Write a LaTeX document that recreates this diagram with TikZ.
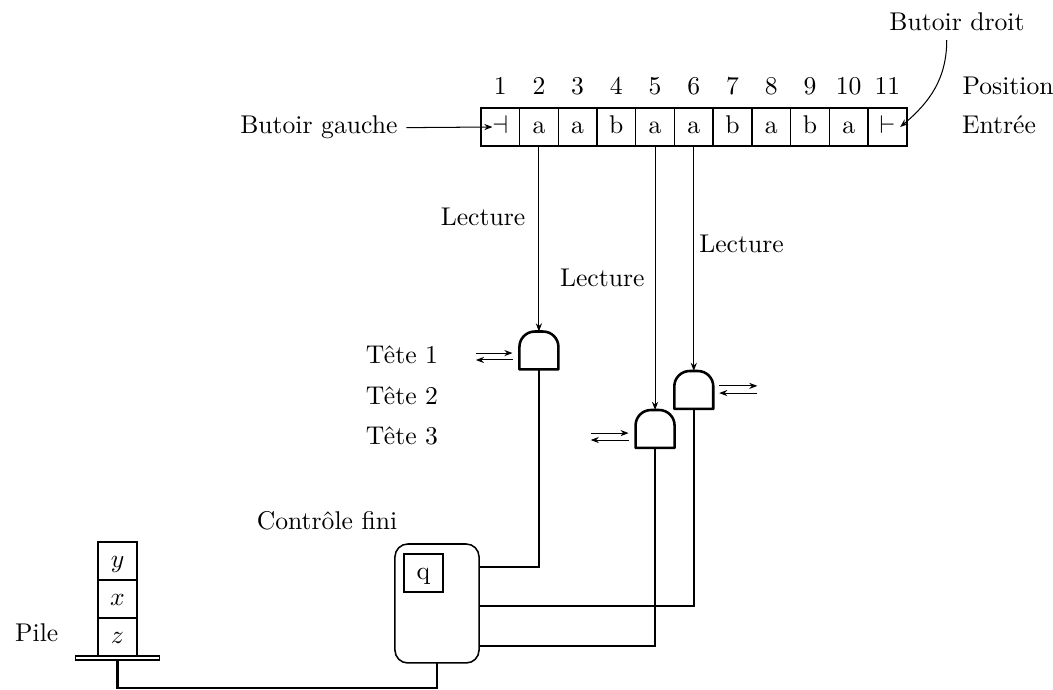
\documentclass[tikz,border=0pt]{standalone}
\usepackage{amsmath,amssymb}
\usepackage{tikz}
\usetikzlibrary{arrows.meta,positioning,calc}
\tikzset{
  cell/.style={draw, line width=0.6pt, minimum width=15.1pt, minimum height=14.8pt,
               inner sep=0pt, outer sep=0pt, text height=1.5ex, text depth=.25ex},
  num/.style={text height=1.5ex, text depth=.25ex},
  tete/.style={minimum width=15.2pt, minimum height=14.8pt, inner sep=0pt, outer sep=0pt},
  contour/.style={line width=1pt, line join=round},
  ctrl/.style={draw, line width=0.6pt, rounded corners=5pt, minimum width=32.8pt,
               minimum height=46.4pt, outer sep=0pt},
  plaque/.style={draw, line width=0.5pt, minimum width=32.8pt, minimum height=1.6pt,
                 inner sep=0pt, outer sep=0pt},
  fil/.style={line width=1pt},
  lect/.style={-{Stealth[length=3.2pt,width=2.4pt]}, line width=0.4pt},
}
\newcommand{\tetecontour}[1]{%
  \draw[contour] (#1.south west) -- ([yshift=-6pt]#1.north west)
    arc[start angle=180, end angle=90, radius=6pt] -- ([xshift=-6pt]#1.north east)
    arc[start angle=90, end angle=0, radius=6pt] -- (#1.south east) -- cycle;}

\begin{document}
\begin{tikzpicture}[x=0.39pt, y=-0.39pt]
  \useasboundingbox (0,0) rectangle (1053,690);

  % bande d'entree
  \node[cell] (c1) at (500.2,127) {$\dashv$};
  \node[cell, right=0pt of c1] (c2) {a};
  \node[cell, right=0pt of c2] (c3) {a};
  \node[cell, right=0pt of c3] (c4) {b};
  \node[cell, right=0pt of c4] (c5) {a};
  \node[cell, right=0pt of c5] (c6) {a};
  \node[cell, right=0pt of c6] (c7) {b};
  \node[cell, right=0pt of c7] (c8) {a};
  \node[cell, right=0pt of c8] (c9) {b};
  \node[cell, right=0pt of c9] (c10) {a};
  \node[cell, right=0pt of c10] (c11) {$\vdash$};

  % positions
  \node[num, above=0.7pt of c1] (n1) {1};
  \node[num, above=0.7pt of c2] (n2) {2};
  \node[num, above=0.7pt of c3] (n3) {3};
  \node[num, above=0.7pt of c4] (n4) {4};
  \node[num, above=0.7pt of c5] (n5) {5};
  \node[num, above=0.7pt of c6] (n6) {6};
  \node[num, above=0.7pt of c7] (n7) {7};
  \node[num, above=0.7pt of c8] (n8) {8};
  \node[num, above=0.7pt of c9] (n9) {9};
  \node[num, above=0.7pt of c10] (n10) {10};
  \node[num, above=0.7pt of c11] (n11) {11};
  \node[base right=17.3pt of n11] (pos) {Position};
  \node[base right=18.1pt of c11] (ent) {Entrée};

  % butoirs
  \node[base left=29pt of c1] (bg) {Butoir gauche};
  \draw[lect] (bg.east) -- ([xshift=-3pt]c1.center);
  \node (bd) at (957,22) {Butoir droit};
  \draw[lect] ([xshift=-4pt]bd.south) to[out=-90, in=40] ([xshift=5pt]c11.center);

  % tetes
  \node[tete] (h1) at (c2.center |- 0,350.5) {};
  \node[tete] (h2) at (c6.center |- 0,390) {};
  \node[tete] (h3) at (c5.center |- 0,429) {};
  \tetecontour{h1}
  \tetecontour{h2}
  \tetecontour{h3}
  \node (t1) at (402,355) {Tête 1};
  \node[below=1.7pt of t1] (t2) {Tête 2};
  \node[below=1.7pt of t2] (t3) {Tête 3};

  \draw[lect] (c2.south) -- node[pos=.38, left=1.8pt] {Lecture} (h1.north);
  \draw[lect] (c5.south) -- node[pos=.5, left=0.6pt] {Lecture} (h3.north);
  \draw[lect] (c6.south) -- node[pos=.435, right=-1.4pt] {Lecture} (h2.north);

  % deplacements
  \draw[lect] ([xshift=-17pt,yshift=-1pt]h1.west) -- ([xshift=-2.7pt,yshift=-1pt]h1.west);
  \draw[lect] ([xshift=-2.7pt,yshift=-3.7pt]h1.west) -- ([xshift=-17pt,yshift=-3.7pt]h1.west);
  \draw[lect] ([xshift=2.3pt,yshift=1.6pt]h2.east) -- ([xshift=17.2pt,yshift=1.6pt]h2.east);
  \draw[lect] ([xshift=17.2pt,yshift=-1.2pt]h2.east) -- ([xshift=2.3pt,yshift=-1.2pt]h2.east);
  \draw[lect] ([xshift=-17.5pt,yshift=-1.6pt]h3.west) -- ([xshift=-2.7pt,yshift=-1.6pt]h3.west);
  \draw[lect] ([xshift=-2.7pt,yshift=-4.3pt]h3.west) -- ([xshift=-17.5pt,yshift=-4.3pt]h3.west);

  % controle fini
  \node[ctrl] (ctrl) at (437,603.5) {};
  \node[cell] (q) at (423.5,573) {q};
  \node (cf) at (327,521) {Contrôle fini};
  \draw[fil] (h1.south) |- ([yshift=14.2pt]ctrl.east);
  \draw[fil] (h2.south) |- ([yshift=-1pt]ctrl.east);
  \draw[fil] (h3.south) |- ([yshift=-16.6pt]ctrl.east);

  % pile
  \node[cell] (sy) at (117.5,561) {$y$};
  \node[cell, below=0pt of sy] (sx) {$x$};
  \node[cell, below=0pt of sx] (sz) {$z$};
  \node[plaque, below=0pt of sz] (plate) {};
  \node[left=12pt of sz, yshift=1.8pt] (pile) {Pile};
  \draw[fil] (plate.south) -- ++(0pt,-11pt) -| (ctrl.south);
\end{tikzpicture}
\end{document}
